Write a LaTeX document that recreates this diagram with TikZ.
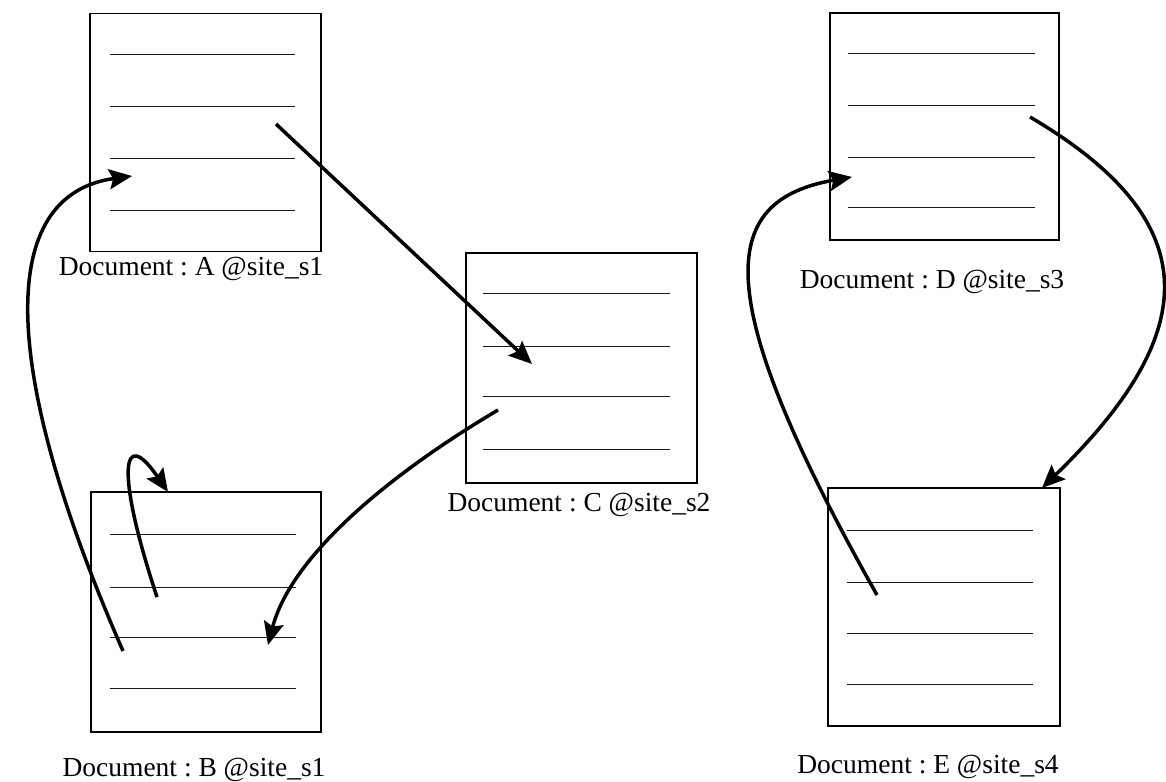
\documentclass[tikz,border=0pt]{standalone}
\usepackage{fontspec}
\setmainfont{Liberation Serif}
\usetikzlibrary{arrows.meta}
\frenchspacing

\tikzset{
  docbox/.style={draw, line width=1.3pt, inner sep=0pt, outer sep=0pt,
    minimum width=#1},
  ruled/.style={line width=1pt, black!90},
  doclabel/.style={anchor=base, inner sep=0pt, font=\fontsize{27.5}{32}\selectfont},
  link/.style={line width=3.5pt, -{Stealth[length=23pt, width=20pt, inset=4pt]}}
}

\begin{document}
\begin{tikzpicture}[x=1pt, y=-1pt]
  \useasboundingbox (0,0) rectangle (1166,781);

  % document pages
  \node[docbox=231pt, minimum height=238pt] (docA) at (205.5,132.5) {};
  \node[docbox=230pt, minimum height=240pt] (docB) at (206,612) {};
  \node[docbox=231pt, minimum height=230pt] (docC) at (581.5,368) {};
  \node[docbox=229pt, minimum height=227pt] (docD) at (944.5,126.5) {};
  \node[docbox=232pt, minimum height=238pt] (docE) at (944,607) {};

  % text lines on each page
  \foreach \y in {55,107,158,210} \draw[ruled] (110,\y) -- (295,\y);
  \foreach \y in {534,587,637,688} \draw[ruled] (110,\y) -- (296,\y);
  \foreach \y in {293,346,396,449} \draw[ruled] (483,\y) -- (670,\y);
  \foreach \y in {54,106,157,207} \draw[ruled] (848,\y) -- (1035,\y);
  \foreach \y in {530,582,633,684} \draw[ruled] (847,\y) -- (1033,\y);

  % captions
  \node[doclabel] (labA) at (191,275) {Document : A @site\_s1};
  \node[doclabel] (labB) at (194,776) {Document : B @site\_s1};
  \node[doclabel] (labC) at (579,511) {Document : C @site\_s2};
  \node[doclabel] (labD) at (932,288) {Document : D @site\_s3};
  \node[doclabel] (labE) at (928,773) {Document : E @site\_s4};

  % link end points inside the pages
  \coordinate (a-out) at (276,124);
  \coordinate (a-in)  at (132,176);
  \coordinate (b-out1) at (123,651);
  \coordinate (b-out2) at (157,597);
  \coordinate (b-in1) at (268,645);
  \coordinate (b-in2) at (168,492);
  \coordinate (c-in)  at (532,364);
  \coordinate (c-out) at (498,410);
  \coordinate (d-out) at (1030,117);
  \coordinate (d-in)  at (852,177);
  \coordinate (e-in)  at (1042,488);
  \coordinate (e-out) at (877,595);

  % links between documents
  \draw[link] (a-out) -- (c-in);
  \draw[link] (c-out) .. controls (380,480) and (290,560) .. (b-in1);
  \draw[link] (b-out1) .. controls (0,370) and (-5,195) .. (a-in);
  \draw[link] (b-out2) .. controls (115,470) and (122,425) .. (b-in2);
  \draw[link] (d-out) .. controls (1205,220) and (1205,330) .. (e-in);
  \draw[link] (e-out) .. controls (705,290) and (720,200) .. (d-in);
\end{tikzpicture}
\end{document}
